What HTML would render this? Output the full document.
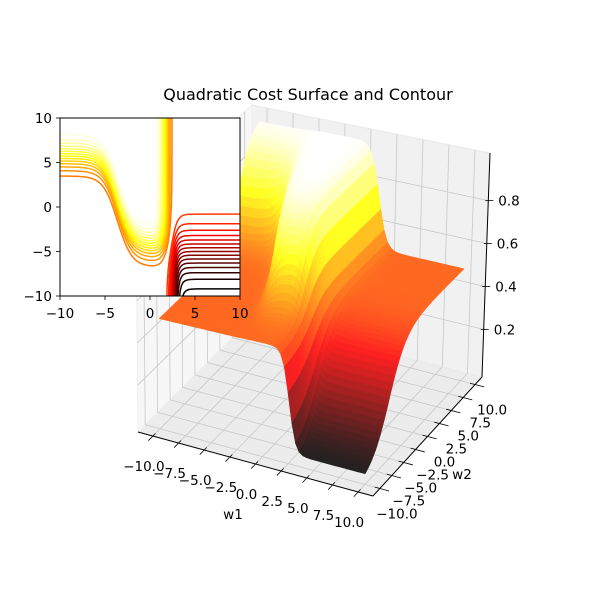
<!DOCTYPE html>
<html><head><meta charset="utf-8">
<style>
html,body{margin:0;padding:0;background:#fff;}
svg{display:block;font-family:"DejaVu Sans","Liberation Sans",sans-serif;}
</style></head>
<body>
<svg id="chart" width="600" height="594" viewBox="0 0 600 594" xmlns="http://www.w3.org/2000/svg">
<rect x="0" y="0" width="600" height="594" fill="#fff"/>
<text x="308" y="100" font-size="16" text-anchor="middle" fill="#000">Quadratic Cost Surface and Contour</text>
<g id="panes"></g>
<g id="grid"></g>
<g id="surface"></g>
<g id="axes3d"></g>
<text x="233" y="519" font-size="13.5" text-anchor="middle">w1</text>
<text x="462" y="479" font-size="13.5" text-anchor="middle">w2</text>
<g id="inset">
  <clipPath id="insetClip"><rect x="60" y="118" width="180" height="178"/></clipPath>
  <rect x="60" y="118" width="180" height="178" fill="#fff"/>
  <g id="contours" clip-path="url(#insetClip)"></g>
  <rect x="60" y="118" width="180" height="178" fill="none" stroke="#000" stroke-width="1"/>
  <g id="insetTicks"></g>
</g>
</svg>
<script>
// ---- data ----
const w1Ticks = [-10, -7.5, -5, -2.5, 0, 2.5, 5, 7.5, 10];
const w2Ticks = [-10, -7.5, -5, -2.5, 0, 2.5, 5, 7.5, 10];
const zTicks = [0.2, 0.4, 0.6, 0.8];
const insetTicks = [-10, -5, 0, 5, 10];
const lowLevels = [0.04,0.07,0.10,0.13,0.16,0.19,0.22,0.25,0.28,0.31,0.34,0.37,0.40,0.43,0.46];
const highLevels = [0.55,0.58,0.61,0.64,0.67,0.70,0.73,0.76,0.79,0.82,0.85,0.88,0.91,0.94,0.97];
// surface model parameters
const plateau = [0.5];
const ridgeCurve = [0.8, 5.1, -3.6, 1.6];   // mid w2, amplitude, inflection w1, width
const ridgeEdge = [1.1];                     // softness along w2
const cliffHigh = [1.6, 0.38];               // w1 position, softness
const troughW1 = [2.6, 0.3];
const troughW2 = [-5.0, 1.72];

const NS = "http://www.w3.org/2000/svg";
function mk(tag, attrs, parent){const e=document.createElementNS(NS,tag);for(const k in attrs)e.setAttribute(k,attrs[k]);parent.appendChild(e);return e;}
const sig = x => 1/(1+Math.exp(-x));
function zf(w1,w2){
  const m = ridgeCurve[0] + ridgeCurve[1]*Math.tanh(-(w1-ridgeCurve[2])/ridgeCurve[3]);
  const h = sig((w2-m)/ridgeEdge[0]) * sig((cliffHigh[0]-w1)/cliffHigh[1]);
  const l = sig((w1-troughW1[0])/troughW1[1]) * sig((troughW2[0]-w2)/troughW2[1]);
  return plateau[0] + 0.5*h - 0.5*l;
}
function hotRGB(t){t=Math.max(0,Math.min(1,t));
  return [Math.min(1,t/0.365), Math.max(0,Math.min(1,(t-0.365)/0.375)), Math.max(0,Math.min(1,(t-0.746)/0.254))];}
function hot(t,mix){const c=hotRGB(t);mix=mix||0;
  return `rgb(${c.map(v=>Math.round((v*(1-mix)+mix)*255)).join(',')})`;}

// ---- projection ----
const L=11.45, ZLO=-0.022, ZHI=1.022;
const F={mm:[138,432],pm:[373,496],pp:[482,377],mp:[252,318]};
const T={mm:[136,212],pm:[373,261],pp:[490,153],mp:[252,105]};
function bil(C,u,v,i){return C.mm[i]*(1-u)*(1-v)+C.pm[i]*u*(1-v)+C.pp[i]*u*v+C.mp[i]*(1-u)*v;}
function P(w1,w2,z){const u=(w1+L)/(2*L), v=(w2+L)/(2*L), t=(z-ZLO)/(ZHI-ZLO);
  return [bil(F,u,v,0)*(1-t)+bil(T,u,v,0)*t, bil(F,u,v,1)*(1-t)+bil(T,u,v,1)*t];}
const pt = p => p[0].toFixed(1)+","+p[1].toFixed(1);

// ---- panes ----
const panes=document.getElementById('panes');
const floor=mk('polygon',{points:[P(-L,-L,ZLO),P(L,-L,ZLO),P(L,L,ZLO),P(-L,L,ZLO)].map(pt).join(' '),fill:'#ececec',stroke:'#e6e6e6'},panes);


const back=mk('polygon',{points:[P(-L,L,ZLO),P(L,L,ZLO),P(L,L,ZHI),P(-L,L,ZHI)].map(pt).join(' '),fill:'#f1f1f1',stroke:'#eaeaea'},panes);


const left=mk('polygon',{points:[P(-L,-L,ZLO),P(-L,L,ZLO),P(-L,L,ZHI),P(-L,-L,ZHI)].map(pt).join(' '),fill:'#f7f7f7',stroke:'#eeeeee'},panes);



// ---- grid ----
const grid=document.getElementById('grid');
function gl(a,b,name){const e=mk('line',{x1:a[0],y1:a[1],x2:b[0],y2:b[1],stroke:'#c8c8c8','stroke-width':0.8},grid);
  
  }
w1Ticks.forEach(w=>{gl(P(w,-L,ZLO),P(w,L,ZLO),'floor-grid-w1');gl(P(w,L,ZLO),P(w,L,ZHI),'back-grid-w1');});
w2Ticks.forEach(w=>{gl(P(-L,w,ZLO),P(L,w,ZLO),'floor-grid-w2');gl(P(-L,w,ZLO),P(-L,w,ZHI),'side-grid-w2');});
zTicks.forEach(z=>{gl(P(-L,L,z),P(L,L,z),'back-grid-z');gl(P(-L,-L,z),P(-L,L,z),'side-grid-z');});

// ---- surface ----
const surf=document.getElementById('surface');
const N=56, cells=[];
let zmin=1e9,zmax=-1e9;
const Z=[];
for(let i=0;i<=N;i++){Z.push([]);for(let j=0;j<=N;j++){const w1=-10+20*i/N,w2=-10+20*j/N;const z=zf(w1,w2);Z[i].push(z);zmin=Math.min(zmin,z);zmax=Math.max(zmax,z);}}
for(let i=0;i<N;i++)for(let j=0;j<N;j++){
  const a=-10+20*i/N,b=-10+20*(i+1)/N,c=-10+20*j/N,d=-10+20*(j+1)/N;
  const zs=[Z[i][j],Z[i+1][j],Z[i+1][j+1],Z[i][j+1]];
  const pts=[P(a,c,zs[0]),P(b,c,zs[1]),P(b,d,zs[2]),P(a,d,zs[3])];
  const zc=(zs[0]+zs[1]+zs[2]+zs[3])/4;
  const depth=P((a+b)/2,(c+d)/2,ZLO)[1];
  cells.push({pts,zc,depth});
}
cells.sort((p,q)=>p.depth-q.depth);
cells.forEach(cl=>{const t=(cl.zc-zmin)/(zmax-zmin);const col=hot(t,0.13);
  const e=mk('polygon',{points:cl.pts.map(pt).join(' '),fill:col,stroke:col,'stroke-width':0.6,'stroke-linejoin':'round'},surf);
  
  
});

// ---- 3D axes ----
const ax=document.getElementById('axes3d');
function al(a,b,name,w){const e=mk('line',{x1:a[0],y1:a[1],x2:b[0],y2:b[1],stroke:'#000','stroke-width':w||1},ax);
  
  }
al(P(-L,-L,ZLO),P(L,-L,ZLO),'x-axis-line');
al(P(L,-L,ZLO),P(L,L,ZLO),'y-axis-line');
al(P(L,L,ZLO),P(L,L,ZHI),'z-axis-line');
function tl(x,y,s,anchor,name){const e=mk('text',{x:x,y:y,'font-size':13.5,'text-anchor':anchor,fill:'#000'},ax);e.textContent=s;
  
  }
const fmt=v=>(v<0?'\u2212':'')+Math.abs(v).toFixed(1);
w1Ticks.forEach(w=>{const p=P(w,-L,ZLO);const q=P(w,-L-0.9,ZLO);const r=P(w,-L+0.5,ZLO);al(r,q,'x-tick',0.8);tl(p[0]-9,p[1]+35,fmt(w),'middle','x-tick-label');});
w2Ticks.forEach(w=>{const p=P(L,w,ZLO);const q=P(L+0.9,w,ZLO);const r=P(L-0.5,w,ZLO);al(r,q,'y-tick',0.8);tl(p[0]+17,p[1]+30,fmt(w),'middle','y-tick-label');});
zTicks.forEach(z=>{const p=P(L,L,z);al([p[0]-3,p[1]],[p[0]+5,p[1]],'z-tick',0.8);tl(p[0]+10,p[1]+5,z.toFixed(1),'start','z-tick-label');});

// ---- inset contour ----
const cg=document.getElementById('contours');
const IX=w=>60+(w+10)/20*180, IY=w=>296-(w+10)/20*178;
const M=120, G=[];
for(let i=0;i<=M;i++){G.push([]);for(let j=0;j<=M;j++)G[i].push(zf(-10+20*i/M,-10+20*j/M));}
const allLevels=lowLevels.concat(highLevels);
const lmin=Math.min(...allLevels), lmax=Math.max(...allLevels);
allLevels.forEach(lv=>{
  let d='';
  const X=i=>IX(-10+20*i/M), Y=j=>IY(-10+20*j/M);
  for(let i=0;i<M;i++)for(let j=0;j<M;j++){
    const v=[G[i][j],G[i+1][j],G[i+1][j+1],G[i][j+1]];
    const c=[[i,j],[i+1,j],[i+1,j+1],[i,j+1]];
    const pts=[];
    for(let k=0;k<4;k++){const a=v[k],b=v[(k+1)%4];
      if((a<lv)!==(b<lv)){const t=(lv-a)/(b-a);const p0=c[k],p1=c[(k+1)%4];
        pts.push([X(p0[0]+(p1[0]-p0[0])*t),Y(p0[1]+(p1[1]-p0[1])*t)]);}}
    if(pts.length>=2)d+=`M${pts[0][0].toFixed(1)},${pts[0][1].toFixed(1)}L${pts[1][0].toFixed(1)},${pts[1][1].toFixed(1)}`;
    if(pts.length===4)d+=`M${pts[2][0].toFixed(1)},${pts[2][1].toFixed(1)}L${pts[3][0].toFixed(1)},${pts[3][1].toFixed(1)}`;
  }
  const e=mk('path',{d:d,fill:'none',stroke:hot((lv-lmin)/(lmax-lmin)),'stroke-width':1.5,'stroke-linecap':'round'},cg);
  
  
});
const it=document.getElementById('insetTicks');
insetTicks.forEach(v=>{
  const x=IX(v), y=IY(v);
  const a=mk('line',{x1:x,y1:296,x2:x,y2:300,stroke:'#000','stroke-width':0.8},it);
  
  
  const b=mk('line',{x1:56,y1:y,x2:60,y2:y,stroke:'#000','stroke-width':0.8},it);
  
  
  const s=(v<0?'\u2212':'')+Math.abs(v);
  const t1=mk('text',{x:x,y:318,'font-size':13.5,'text-anchor':'middle'},it);t1.textContent=s;
  
  
  const t2=mk('text',{x:52,y:y+5,'font-size':13.5,'text-anchor':'end'},it);t2.textContent=s;
  
  
});
</script>
</body></html>
